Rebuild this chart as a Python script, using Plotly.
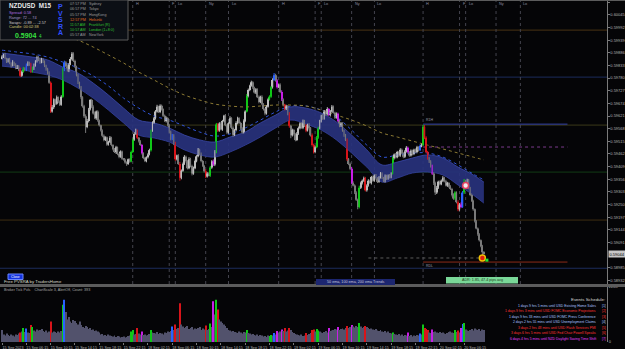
import plotly.graph_objects as go

FONT = "Liberation Sans"

# ---------------- data (prices in points, 1e-5) ----------------
first_open = 59862
closes = [
    59870, 59878, 59862, 59850, 59858, 59842, 59832, 59846, 59836, 59822, 59830, 59816, 59790, 59806, 59822, 59814,
    59834, 59845, 59838, 59806, 59820, 59832, 59850, 59868, 59858, 59846, 59860, 59848, 59832, 59818, 59800, 59760,
    59640, 59658, 59690, 59672, 59700, 59682, 59668, 59702, 59815, 59845, 59830, 59812, 59838, 59860, 59882, 59852,
    59828, 59792, 59762, 59742, 59700, 59662, 59620, 59575, 59600, 59648, 59688, 59660, 59632, 59612, 59640, 59602,
    59582, 59560, 59538, 59520, 59532, 59502, 59512, 59530, 59500, 59482, 59470, 59490, 59462, 59450, 59472, 59442,
    59438, 59426, 59420, 59440, 59430, 59470, 59522, 59546, 59560, 59530, 59515, 59500, 59466, 59445, 59432, 59448,
    59460, 59478, 59560, 59592, 59612, 59640, 59660, 59638, 59664, 59650, 59622, 59600, 59612, 59582, 59555, 59525,
    59540, 59505, 59440, 59455, 59420, 59362, 59392, 59420, 59450, 59432, 59402, 59440, 59412, 59380, 59402, 59432,
    59452, 59480, 59462, 59432, 59412, 59390, 59368, 59380, 59372, 59405, 59430, 59418, 59470, 59585, 59560, 59590,
    59565, 59600, 59622, 59582, 59552, 59590, 59612, 59572, 59542, 59562, 59592, 59612, 59592, 59570, 59552, 59600,
    59640, 59705, 59730, 59748, 59762, 59740, 59720, 59732, 59700, 59680, 59702, 59670, 59650, 59632, 59660, 59690,
    59702, 59742, 59772, 59792, 59770, 59742, 59752, 59722, 59690, 59668, 59650, 59662, 59630, 59580, 59540, 59562,
    59545, 59520, 59548, 59570, 59590, 59572, 59600, 59580, 59560, 59585, 59570, 59540, 59500, 59470, 59490, 59530,
    59570, 59600, 59622, 59610, 59640, 59628, 59650, 59625, 59640, 59660, 59635, 59615, 59630, 59600, 59580, 59590,
    59560, 59540, 59520, 59440, 59420, 59400, 59340, 59330, 59300, 59270, 59240, 59320, 59340, 59350, 59360, 59310,
    59330, 59350, 59340, 59365, 59350, 59372, 59360, 59345, 59365, 59380, 59362, 59348, 59370, 59358, 59372, 59365,
    59380, 59445, 59460, 59448, 59470, 59455, 59480, 59465, 59450, 59472, 59488, 59470, 59455, 59475, 59462, 59480,
    59470, 59490, 59478, 59495, 59500, 59575, 59530, 59470, 59445, 59430, 59410, 59380, 59340, 59300, 59320, 59345,
    59335, 59350, 59362, 59348, 59330, 59340, 59325, 59315, 59290, 59275, 59300, 59260, 59230, 59250, 59240, 59300,
    59345, 59335, 59352, 59320, 59290, 59265, 59230, 59180, 59150, 59125, 59100, 59075, 59050, 59044,
]
wick_up = [
    6, 4, 8, 3, 5, 7, 4, 9, 3, 6, 5, 4, 8, 6, 5, 3,
    7, 5, 4, 6, 8, 9, 5, 6, 4, 7, 5, 3, 6, 4, 5, 8,
    6, 9, 5, 4, 7, 3, 5, 6, 9, 8, 6, 7, 5, 8, 7, 6,
    5, 4, 6, 3, 5, 4, 6, 8, 9, 7, 4, 5, 6, 8, 4, 5,
    4, 3, 5, 6, 4, 3, 5, 7, 4, 3, 5, 6, 3, 4, 5, 4,
    3, 4, 5, 3, 4, 6, 5, 7, 8, 4, 3, 5, 4, 3, 5, 4,
    5, 6, 4, 7, 5, 6, 8, 4, 6, 5, 3, 5, 7, 4, 6, 5,
    6, 5, 8, 4, 6, 9, 5, 6, 7, 5, 4, 8, 6, 5, 7, 6,
    5, 7, 4, 6, 5, 4, 8, 6, 5, 7, 6, 9, 8, 7, 6, 5,
    6, 5, 4, 7, 6, 5, 8, 4, 6, 5, 7, 6, 4, 5, 6, 7,
    5, 8, 6, 4, 7, 5, 4, 6, 5, 7, 4, 6, 5, 4, 6, 5,
    6, 5, 7, 9, 6, 5, 4, 6, 7, 5, 4, 6, 5, 7, 4, 6,
    5, 4, 6, 7, 5, 4, 6, 5, 7, 4, 6, 5, 8, 5, 6, 7,
    6, 5, 4, 7, 6, 5, 8, 4, 6, 7, 5, 4, 6, 5, 7, 6,
    5, 4, 6, 7, 5, 6, 8, 7, 5, 6, 5, 9, 6, 5, 7, 6,
    5, 6, 4, 5, 7, 4, 6, 5, 4, 6, 5, 4, 6, 5, 4, 6,
    5, 7, 4, 6, 5, 4, 6, 5, 4, 6, 7, 5, 4, 6, 5, 4,
    5, 6, 4, 7, 5, 9, 8, 6, 5, 4, 6, 7, 5, 6, 8, 5,
    6, 5, 7, 4, 6, 5, 4, 6, 5, 7, 6, 5, 8, 6, 9, 7,
    12, 8, 6, 5, 4, 6, 5, 4, 5, 4, 5, 4, 6, 5,
]
wick_dn = [
    4, 6, 3, 7, 5, 4, 8, 3, 6, 5, 4, 7, 6, 5, 4, 6,
    5, 4, 7, 5, 3, 6, 4, 5, 7, 6, 4, 5, 6, 7, 5, 4,
    6, 5, 8, 6, 4, 7, 5, 4, 5, 6, 4, 5, 7, 4, 6, 5,
    6, 5, 7, 6, 8, 6, 7, 25, 5, 6, 4, 6, 5, 4, 7, 5,
    5, 4, 6, 5, 4, 6, 5, 4, 6, 5, 4, 7, 5, 6, 4, 5,
    4, 5, 8, 4, 5, 3, 4, 5, 4, 6, 5, 4, 6, 5, 4, 5,
    5, 4, 6, 5, 4, 6, 5, 4, 5, 6, 5, 4, 6, 5, 7, 6,
    5, 6, 7, 5, 4, 12, 6, 5, 4, 6, 5, 4, 6, 8, 5, 4,
    5, 4, 6, 5, 4, 6, 7, 5, 4, 6, 5, 6, 7, 5, 6, 5,
    4, 6, 5, 4, 7, 5, 4, 6, 8, 5, 4, 6, 5, 7, 5, 4,
    5, 4, 6, 5, 4, 6, 5, 7, 4, 6, 5, 4, 6, 8, 5, 4,
    4, 5, 6, 4, 5, 6, 4, 5, 6, 7, 5, 4, 6, 8, 12, 5,
    6, 5, 4, 6, 5, 4, 6, 5, 7, 4, 6, 5, 7, 6, 5, 4,
    5, 4, 6, 5, 4, 6, 5, 4, 6, 5, 4, 6, 5, 4, 6, 5,
    5, 6, 4, 7, 5, 6, 5, 4, 6, 5, 10, 6, 5, 6, 5, 5,
    6, 5, 4, 6, 5, 4, 6, 5, 4, 6, 5, 4, 6, 5, 4, 6,
    5, 4, 6, 5, 4, 6, 5, 4, 6, 5, 4, 6, 5, 4, 6, 5,
    4, 5, 6, 4, 5, 4, 6, 5, 7, 6, 5, 6, 8, 10, 6, 5,
    5, 4, 6, 5, 4, 6, 5, 4, 6, 5, 6, 5, 8, 6, 5, 4,
    6, 5, 4, 6, 5, 4, 6, 5, 4, 6, 5, 4, 24, 4,
]
volumes = [
    480, 300, 260, 340, 280, 240, 300, 260, 220, 300, 280, 340, 380, 420, 560, 400,
    540, 380, 360, 680, 600, 460, 420, 500, 460, 480, 520, 440, 400, 460, 380, 420,
    820, 380, 420, 400, 360, 420, 380, 440, 1500, 1700, 1200, 900, 1000, 820, 760, 880,
    840, 760, 700, 820, 680, 600, 560, 640, 600, 520, 560, 480, 500, 440, 460, 420,
    380, 300, 320, 260, 280, 240, 300, 260, 240, 220, 260, 200, 240, 220, 180, 200,
    220, 180, 200, 240, 260, 420, 480, 300, 320, 560, 340, 300, 420, 280, 300, 260,
    280, 320, 480, 380, 360, 340, 400, 320, 360, 340, 300, 380, 360, 420, 400, 440,
    620, 480, 700, 520, 560, 1560, 700, 620, 560, 600, 640, 520, 560, 600, 500, 540,
    520, 560, 600, 480, 540, 500, 660, 480, 520, 740, 600, 1640, 1100, 1700, 1300, 900,
    820, 760, 700, 640, 560, 480, 460, 420, 440, 400, 380, 360, 420, 380, 340, 400,
    380, 480, 360, 340, 300, 320, 280, 260, 300, 240, 280, 260, 220, 240, 200, 260,
    240, 280, 260, 360, 300, 440, 380, 420, 500, 440, 560, 420, 460, 560, 480, 400,
    360, 320, 300, 280, 260, 300, 240, 260, 360, 280, 320, 360, 480, 500, 420, 520,
    460, 420, 380, 360, 400, 440, 380, 560, 440, 460, 480, 520, 500, 600, 480, 520,
    540, 500, 560, 640, 560, 600, 680, 620, 580, 640, 600, 760, 620, 560, 600, 640,
    600, 560, 520, 540, 500, 480, 520, 460, 440, 480, 420, 400, 440, 380, 420, 360,
    340, 380, 320, 300, 280, 320, 260, 300, 240, 280, 260, 380, 240, 280, 220, 260,
    240, 280, 260, 340, 300, 700, 560, 520, 480, 380, 360, 500, 400, 420, 380, 360,
    400, 360, 380, 340, 320, 360, 400, 420, 380, 360, 480, 400, 460, 380, 560, 720,
    760, 500, 460, 440, 480, 520, 460, 540, 500, 480, 520, 440, 500, 480,
]
# PVSRA classes (bar indices)
climax_bull = [14, 20, 40, 85, 86, 98, 137, 141, 161, 176, 177, 207, 208, 235, 257, 277, 298, 304]
climax_bear = [12, 19, 32, 89, 114, 117, 134, 142, 186, 189, 200, 204, 205, 227, 239, 278, 279, 280, 300]
above_bull = [16, 41, 112, 179, 275, 303]
above_bear = [92, 139, 181, 184, 215, 221, 230, 267, 283, 302]

# EMA ribbon / trend lines sampled along the bars
band_x = [0, 10, 20, 30, 40, 50, 60, 70, 80, 90, 100, 110, 120, 130, 140, 150, 160,
          170, 180, 190, 200, 210, 220, 230, 240, 250, 260, 270, 280, 290, 300, 310, 317]
band_top = [59885, 59877, 59868, 59856, 59826, 59801, 59759, 59709, 59654, 59604, 59592, 59571, 59541,
            59521, 59512, 59533, 59554, 59592, 59625, 59659, 59654, 59634, 59596, 59541, 59479, 59416,
            59428, 59445, 59458, 59445, 59407, 59374, 59344]
band_bot = [59830, 59822, 59805, 59793, 59772, 59738, 59696, 59646, 59592, 59541, 59529, 59512, 59479,
            59458, 59449, 59470, 59499, 59533, 59571, 59604, 59587, 59562, 59521, 59466, 59407, 59344,
            59361, 59382, 59386, 59374, 59332, 59290, 59256]
ema100 = [59897, 59889, 59881, 59868, 59847, 59822, 59789, 59747, 59696, 59654, 59621, 59604, 59579,
          59554, 59537, 59546, 59571, 59604, 59638, 59663, 59663, 59646, 59617, 59562, 59499, 59449,
          59458, 59466, 59466, 59449, 59416, 59378, 59353]
ema200 = [60057, 60036, 60011, 59985, 59960, 59939, 59910, 59877, 59843, 59805, 59772, 59738, 59709,
          59688, 59671, 59663, 59659, 59663, 59667, 59667, 59663, 59646, 59625, 59604, 59579, 59550,
          59533, 59516, 59499, 59483, 59466, 59449, 59437]

time_ticks = [0, 16, 32, 48, 64, 80, 96, 112, 128, 144, 160, 176, 192, 208, 224, 240, 256, 272, 288, 304]
time_labels = ["15 Sep 2023", "15 Sep 06:15", "15 Sep 10:15", "15 Sep 14:15", "15 Sep 18:15",
               "15 Sep 22:15", "18 Sep 02:15", "18 Sep 06:15", "18 Sep 10:15", "18 Sep 14:15",
               "18 Sep 18:15", "18 Sep 22:15", "19 Sep 02:15", "19 Sep 06:15", "19 Sep 10:15",
               "19 Sep 14:15", "19 Sep 18:15", "19 Sep 22:15", "20 Sep 02:15", "20 Sep 06:15"]
price_ticks = [0.60098, 0.60045, 0.59992, 0.59939, 0.59886, 0.59833, 0.59780, 0.59727, 0.59674,
               0.59621, 0.59568, 0.59515, 0.59462, 0.59409, 0.59356, 0.59303, 0.59250, 0.59197,
               0.59144, 0.59091, 0.58985, 0.58932]
price_range = [0.58917, 0.60103]
vol_max = 2208
current_price = 0.59044

full_levels = [0.59981, 0.59784, 0.59583, 0.59386, 0.59185, 0.58983]
pivot_levels = [0.59587, 0.59491, 0.59009]
pivot_span = [277, 372]
recent_low_level = 0.59026
recent_low_span = [241, 317]

session_bars = [86, 110, 114, 134, 149, 182, 206, 210, 230, 245, 277, 301, 305, 325, 341]
session_names = ["H", "F", "Lo", "Ny", "Lo", "H", "F", "Lo", "Ny", "Lo", "H", "F", "Lo", "Ny", "Lo"]

signal_bars = [305]
signal_prices = [0.59330]
last_mark_bar = [316]
last_mark_price = [0.59026]
tick_mark_bar = [319]
tick_mark_price = [0.59017]

clock_times = ["07:57 PM", "06:57 PM", "05:57 PM", "12:57 PM", "11:57 AM", "10:57 AM", "05:57 AM"]
clock_cities = ["Sydney", "Tokyo", "HongKong", "Helsinki", "Frankfurt (R)", "London (1+8:0)", "NewYork"]
events = ["1 days 9 hrs 5 mins until USD Existing Home Sales",
          "1 days 9 hrs 3 mins until USD FOMC Economic Projections",
          "1 days 9 hrs 33 mins until USD FOMC Press Conference",
          "2 days 2 hrs 55 mins until USD Unemployment Claims",
          "3 days 2 hrs 48 mins until USD Flash Services PMI",
          "3 days 6 hrs 5 mins until USD Fed Chair Powell Speaks",
          "6 days 4 hrs 5 mins until NZD Daylight Saving Time Shift"]

# ---------------- derived ----------------
P = 1e5
n = min(len(closes), len(wick_up), len(wick_dn), len(volumes))
opens = [first_open] + closes[:-1]
o = [v / P for v in opens[:n]]
c = [v / P for v in closes[:n]]
h = [(max(a, b) + u) / P for a, b, u in zip(opens[:n], closes[:n], wick_up[:n])]
l = [(min(a, b) - d) / P for a, b, d in zip(opens[:n], closes[:n], wick_dn[:n])]
xs = list(range(n))

BULL, BEAR = "#bdbdbd", "#7a7a7a"
VOLN = "#52526c"
CG, CR, CB, CM = "#10c818", "#d8141a", "#2a62ff", "#c81ee6"
cls = {}
for i in climax_bull: cls[i] = CG
for i in climax_bear: cls[i] = CR
for i in above_bull: cls[i] = CB
for i in above_bear: cls[i] = CM

cand_col = [cls.get(i, BULL if c[i] >= o[i] else BEAR) for i in xs]
vol_col = [cls.get(i, VOLN) for i in xs]

fig = go.Figure()

# ribbon
fig.add_trace(go.Scatter(x=band_x, y=[v / P for v in band_bot], mode="lines",
                         line=dict(color="#34409c", width=0.8, shape="spline"), hoverinfo="skip",
                         xaxis="x", yaxis="y"))
fig.add_trace(go.Scatter(x=band_x, y=[v / P for v in band_top], mode="lines", fill="tonexty",
                         fillcolor="rgba(40,50,125,0.92)",
                         line=dict(color="#3a48aa", width=0.8, shape="spline"), hoverinfo="skip",
                         xaxis="x", yaxis="y"))
fig.add_trace(go.Scatter(x=band_x, y=[v / P for v in ema100], mode="lines",
                         line=dict(color="#3054d8", width=1, dash="dot", shape="spline"), hoverinfo="skip"))
fig.add_trace(go.Scatter(x=band_x, y=[v / P for v in ema200], mode="lines",
                         line=dict(color="#8c7a34", width=1, dash="dot", shape="spline"), hoverinfo="skip"))

# wicks grouped by colour
for col in set(cand_col):
    wx, wy = [], []
    for i in xs:
        if cand_col[i] == col:
            wx += [i, i, None]
            wy += [l[i], h[i], None]
    fig.add_trace(go.Scatter(x=wx, y=wy, mode="lines", line=dict(color=col, width=1),
                             hoverinfo="skip", xaxis="x", yaxis="y"))

# bodies
fig.add_trace(go.Bar(x=xs, y=[max(abs(c[i] - o[i]), 0.00002) for i in xs],
                     base=[min(c[i], o[i]) for i in xs], width=0.8,
                     marker=dict(color=cand_col, line=dict(width=0)), xaxis="x", yaxis="y",
                     hoverinfo="skip"))

# markers
fig.add_trace(go.Scatter(x=signal_bars, y=signal_prices, mode="markers",
                         marker=dict(size=6, color="#f4e8ec", line=dict(color="#e04060", width=1.6))))
fig.add_trace(go.Scatter(x=last_mark_bar, y=last_mark_price, mode="markers",
                         marker=dict(size=6, color="#e02010", line=dict(color="#f0c000", width=1.5))))
fig.add_trace(go.Scatter(x=tick_mark_bar, y=tick_mark_price, mode="markers",
                         marker=dict(size=3, symbol="square", color="#20e030")))

# volume
fig.add_trace(go.Bar(x=xs, y=volumes[:n], width=0.65, marker=dict(color=vol_col, line=dict(width=0)),
                     xaxis="x2", yaxis="y2", hoverinfo="skip"))

# ---------------- layout helpers ----------------
W, TOP, BOT = 607.0, 1.0, 342.0
def px(x): return x / W
def py(y): return (BOT - y) / (BOT - TOP)

MAIN_DOM = [py(284), 1.0]
VOL_DOM = [0.0, py(287)]

shapes, ann = [], []
def rect(x0, y0, x1, y1, fill, line=None, layer="above"):
    shapes.append(dict(type="rect", xref="paper", yref="paper", x0=px(x0), x1=px(x1), y0=py(y1), y1=py(y0),
                       fillcolor=fill, line=dict(color=line or fill, width=1 if line else 0), layer=layer))
def txt(x, y, s, size, color, anchor="left", bg=None):
    ann.append(dict(x=px(x), y=py(y), xref="paper", yref="paper", text=s, showarrow=False, xanchor=anchor,
                    yanchor="middle", font=dict(size=size, color=color, family=FONT), borderpad=0,
                    bgcolor=bg))

full_cols = ["#4a3414", "#1c2c5c", "#3c3a1a", "#123c16", "#3e2e12", "#1c2c5c"]
for lv, col in zip(full_levels, full_cols):
    shapes.append(dict(type="line", xref="paper", yref="y", x0=0, x1=1, y0=lv, y1=lv,
                       line=dict(color=col, width=1), layer="below"))
piv_styles = [("#3444aa", "solid"), ("#7a3a8c", "dot"), ("#8c2a18", "solid")]
for lv, (col, dash) in zip(pivot_levels, piv_styles):
    shapes.append(dict(type="line", xref="x", yref="y", x0=pivot_span[0], x1=pivot_span[1], y0=lv, y1=lv,
                       line=dict(color=col, width=1, dash=dash), layer="below"))
shapes.append(dict(type="line", xref="x", yref="y", x0=recent_low_span[0], x1=recent_low_span[1],
                   y0=recent_low_level, y1=recent_low_level,
                   line=dict(color="#5c5c5c", width=1, dash="dot"), layer="below"))
for b, name in zip(session_bars, session_names):
    shapes.append(dict(type="line", xref="x", yref="paper", x0=b, x1=b, y0=MAIN_DOM[0], y1=1,
                       line=dict(color="#44444e", width=1, dash="dot"), layer="below"))
    ann.append(dict(x=b, y=py(4), xref="x", yref="paper", text=name, showarrow=False, xanchor="left",
                    xshift=1, yanchor="middle", font=dict(size=3.8, color="#8a8aa0", family=FONT)))

ann.append(dict(x=pivot_span[0], y=pivot_levels[0], xref="x", yref="y", text="R1H", showarrow=False,
                xanchor="left", yanchor="bottom", xshift=1, font=dict(size=3.5, color="#9a9aa8", family=FONT)))
ann.append(dict(x=pivot_span[0], y=pivot_levels[2], xref="x", yref="y", text="RDL", showarrow=False,
                xanchor="left", yanchor="top", xshift=1, font=dict(size=3.5, color="#9a9aa8", family=FONT)))

# pane separator and top line
shapes.append(dict(type="rect", xref="paper", yref="paper", x0=0, x1=625 / W, y0=py(287), y1=py(284),
                   fillcolor="#5c5c5c", line=dict(width=0), layer="above"))
shapes.append(dict(type="line", xref="paper", yref="paper", x0=0, x1=625 / W, y0=py(0.5), y1=py(0.5),
                   line=dict(color="#5c5c5c", width=1), layer="above"))

# info panel
rect(0, 0, 128, 40, "#0c0f15", "#5a5a5a")
txt(8, 5.5, "<b>NZDUSD  M15</b>", 6.3, "#e8e8e8")
txt(8, 13, "Spread: 0.58", 3.9, "#b070e0")
txt(8, 17.7, "Range: 72 ... 74", 3.9, "#a898c8")
txt(8, 22.2, "Swaps: -0.89 ... -2.57", 3.9, "#c8c8c8")
txt(8, 26.7, "Candle: 00:02:38", 3.9, "#d8c878")
txt(14, 35, "<b>0.5904</b>", 7, "#38e040")
txt(37.5, 36, "4", 4.5, "#38e040")
for k, ch in enumerate("PVSRA"):
    txt(57, 6.7 + 6.5 * k, "<b>" + ch + "</b>", 7, "#3050ff")
clock_cols = ["#9a9a9a", "#9a9a9a", "#9a9a9a", "#e07020", "#30c030", "#30c030", "#9a9a9a"]
for k, (t, city, col) in enumerate(zip(clock_times, clock_cities, clock_cols)):
    yy = 4.3 + 5.17 * k
    txt(69, yy, t, 3.7, col)
    txt(88, yy, city, 3.7, col)

# bottom labels in main pane
rect(8, 274, 23, 279.5, "#1434e0", "#6a86ff")
txt(15.5, 276.8, "Close", 3.4, "#ffffff", anchor="center")
txt(3, 281.6, "Free PVSRA by TradersHome", 4.3, "#d8d8c8")
rect(316, 279, 395, 285, "#1c2670")
txt(355.5, 282, "50 ema, 100 ema, 200 ema Trends", 3.7, "#c8c8dc", anchor="center")
rect(446, 277, 518, 283.5, "#7ad898")
txt(482, 280.3, "ADR: 1.85, 47.4 pips avg", 3.7, "#1a3a1a", anchor="center")

# volume pane texts
txt(3, 289.6, "Broker Tick Pvls    ChartScale 3, AlertOff, Count: 393", 3.7, "#a8a8a8")
txt(606, 299.5, "Events Schedule:", 4.4, "#d8d8d8", anchor="right")
ev_cols = ["#a8c4ff", "#ff3434", "#a8c4ff", "#a8c4ff", "#ff3434", "#ff3434", "#e040ff"]
br_cols = ["#a8c4ff", "#ff3434", "#ff3434", "#a8c4ff", "#ff3434", "#ff3434", "#e040ff"]
for k, (e, col, bc) in enumerate(zip(events, ev_cols, br_cols)):
    yy = 305.5 + 5.58 * k
    txt(597, yy, e, 3.45, col, anchor="right")
    txt(600.5, yy, "[%d]" % (k + 1), 3.45, bc)

# current price box on the axis
ann.append(dict(x=1, y=current_price, xref="paper", yref="y", text="%.5f" % current_price, showarrow=False,
                xanchor="left", yanchor="middle", xshift=1, bgcolor="#c8c8c8", borderpad=0.5,
                font=dict(size=4, color="#000000", family=FONT)))

xr = [-1.32, 398.0]
fig.update_layout(
    width=625, height=349, margin=dict(l=0, r=18, t=1, b=7),
    paper_bgcolor="#050507", plot_bgcolor="#050507", showlegend=False, barmode="overlay",
    shapes=shapes, annotations=ann, font=dict(family=FONT),
    xaxis=dict(domain=[0, 1], range=xr, anchor="y", showticklabels=False, showgrid=False, zeroline=False,
               fixedrange=True),
    yaxis=dict(domain=MAIN_DOM, range=price_range, side="right", tickvals=price_ticks,
               ticktext=["%.5f" % v for v in price_ticks], tickfont=dict(size=4, color="#b4b4b4", family=FONT),
               showgrid=False, zeroline=False, showline=True, linecolor="#7a7a7a", linewidth=1,
               ticks="outside", ticklen=1.5, tickcolor="#7a7a7a", automargin=False),
    xaxis2=dict(domain=[0, 1], range=xr, anchor="y2", tickvals=time_ticks, ticktext=time_labels,
                tickfont=dict(size=3.7, color="#b4b4b4", family=FONT), ticklabelshift=11,
                ticks="outside", ticklen=1.5, tickcolor="#7a7a7a", showgrid=False, zeroline=False,
                automargin=False),
    yaxis2=dict(domain=VOL_DOM, range=[0, vol_max], side="right", tickvals=[0, vol_max],
                ticktext=["0", str(vol_max)], tickfont=dict(size=4, color="#b4b4b4", family=FONT),
                showgrid=False, zeroline=False, showline=True, linecolor="#7a7a7a", linewidth=1,
                ticks="", automargin=False),
)

fig.write_html("out.html")
